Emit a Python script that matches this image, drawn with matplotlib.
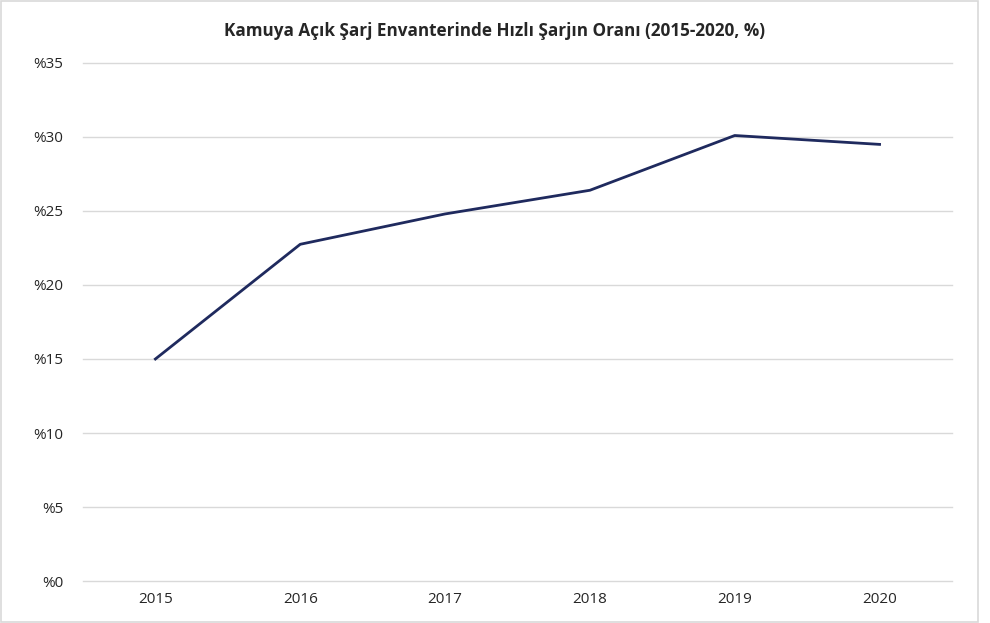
import matplotlib
matplotlib.use('Agg')
import matplotlib.pyplot as plt
from matplotlib.patches import Rectangle

years = ['2015', '2016', '2017', '2018', '2019', '2020']
share = [15.0, 22.75, 24.8, 26.4, 30.1, 29.5]
yticks = [0, 5, 10, 15, 20, 25, 30, 35]
ylabels = ['%' + str(v) for v in yticks]

plt.rcParams['font.family'] = ['Open Sans', 'DejaVu Sans']

fig = plt.figure(figsize=(9.9, 6.23), dpi=100)
ax = fig.add_axes([0.0838, 0.0674, 0.8778, 0.8315])

ax.plot(range(len(years)), share, '-', color='#1f2a5e', linewidth=2.0, zorder=3)

ax.set_xlim(-0.5, len(years) - 0.5)
ax.set_ylim(0, 35)
ax.set_xticks(range(len(years)))
ax.set_xticklabels(years, fontsize=11, color='#262626')
ax.set_yticks(yticks)
ax.set_yticklabels(ylabels, fontsize=11, color='#262626')
ax.tick_params(axis='both', length=0)
ax.tick_params(axis='y', pad=14)
ax.tick_params(axis='x', pad=8)
ax.grid(axis='y', color='#d9d9d9', linewidth=1)
for gl in ax.get_ygridlines():
    gl.set_clip_on(False)
ax.set_axisbelow(True)
for s in ax.spines.values():
    s.set_visible(False)

fig.text(0.5, 0.95, 'Kamuya Açık Şarj Envanterinde Hızlı Şarjın Oranı (2015-2020, %)',
         ha='center', va='center', fontsize=12.3, fontweight='bold', color='#262626')

fig.patches.append(Rectangle((0.001, 0.001), 0.987, 0.997, transform=fig.transFigure,
                             fill=False, edgecolor='#d9d9d9', linewidth=1.2))

fig.savefig('out.png', dpi=100)
